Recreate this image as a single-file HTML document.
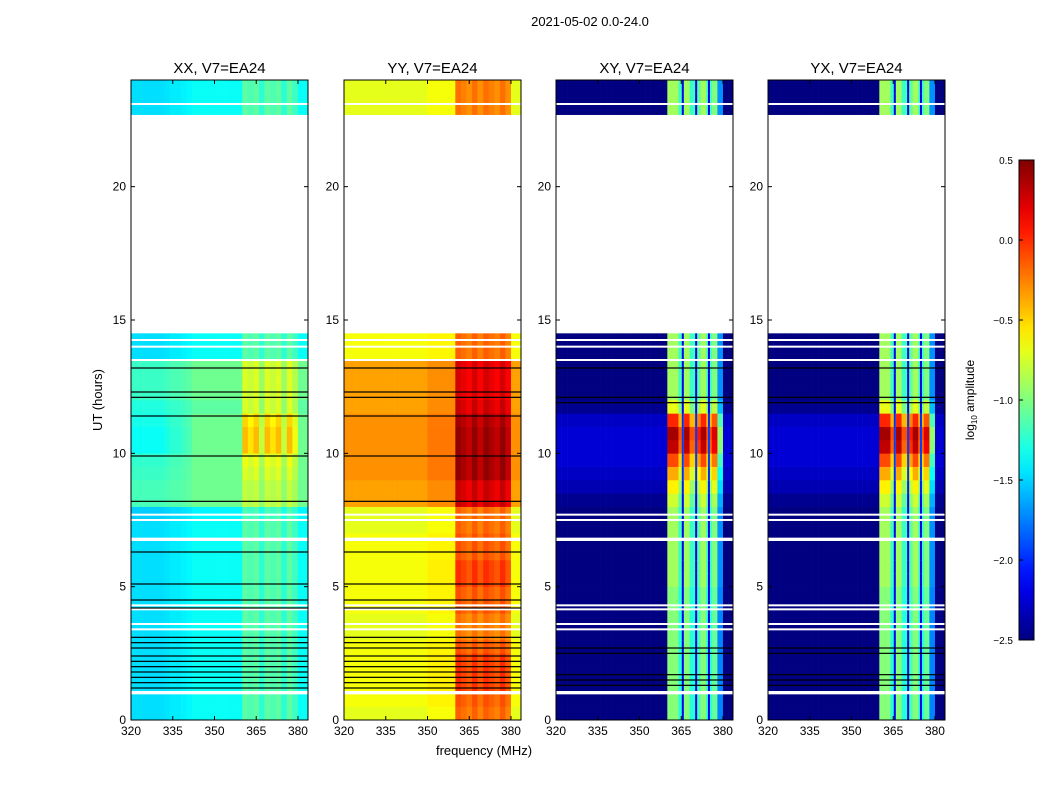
<!DOCTYPE html>
<html><head><meta charset="utf-8"><style>
body{margin:0;background:#fff;font-family:"Liberation Sans",sans-serif;}
svg text{font-family:"Liberation Sans",sans-serif;}
</style></head><body>
<svg id="fig" width="1050" height="800" xmlns="http://www.w3.org/2000/svg">
<rect width="1050" height="800" fill="#fff"/>
<text x="590" y="26" font-size="13" text-anchor="middle">2021-05-02 0.0-24.0</text>
<text transform="translate(102,400) rotate(-90)" font-size="13" text-anchor="middle">UT (hours)</text>
<text x="484" y="755" font-size="13" text-anchor="middle">frequency (MHz)</text>
<g id="panels"></g>
<g id="cbar"></g>
</svg>
<script>
const panelNames = ["XX, V7=EA24","YY, V7=EA24","XY, V7=EA24","YX, V7=EA24"];
const panelX = [131,344,556,768];
const xTicks = [320,335,350,365,380];
const yTicks = [0,5,10,15,20];
const freqBins = [320,322,324,326,328,330,332,334,336,338,340,342,344,346,348,350,352,354,356,358,360,362,364,366,368,370,372,374,376,378,380,382];
const timeBins = [0,0.5,1,1.5,2,2.5,3,3.5,4,4.5,5,5.5,6,6.5,7,7.5,8,8.5,9,9.5,10,10.5,11,11.5,12,12.5,13,13.5,14,14.5,15,15.5,16,16.5,17,17.5,18,18.5,19,19.5,20,20.5,21,21.5,22,22.5,23,23.5];
const N=null;
const rowXX = [-1.35,-1.35,-1.35,-1.35,-1.35,-1.35,-1.35,-1.35,-1.35,-1.35,-1.35,-1.35,-1.35,-1.35,-1.35,-1.4,-1.05,-1.05,-1.05,-1.05,-1.05,-1.05,-1.05,-1.1,-1.05,-1.05,-1.05,-1.35,-1.35,N,N,N,N,N,N,N,N,N,N,N,N,N,N,N,N,-1.35,-1.35,-1.35];
const rowYY = [-0.7,-0.65,-0.65,-0.65,-0.65,-0.65,-0.7,-0.7,-0.65,-0.65,-0.65,-0.65,-0.65,-0.65,-0.7,-0.7,-0.35,-0.35,-0.3,-0.3,-0.3,-0.3,-0.3,-0.35,-0.35,-0.35,-0.35,-0.65,-0.65,N,N,N,N,N,N,N,N,N,N,N,N,N,N,N,N,-0.7,-0.7,-0.7];
const rowXY = [-2.5,-2.5,-2.5,-2.5,-2.5,-2.5,-2.5,-2.5,-2.5,-2.5,-2.5,-2.5,-2.5,-2.5,-2.5,-2.5,-2.45,-2.35,-2.3,-2.25,-2.25,-2.25,-2.3,-2.45,-2.5,-2.5,-2.5,-2.5,-2.5,N,N,N,N,N,N,N,N,N,N,N,N,N,N,N,N,-2.5,-2.5,-2.5];
const rowYX = [-2.5,-2.5,-2.5,-2.5,-2.5,-2.5,-2.5,-2.5,-2.5,-2.5,-2.5,-2.5,-2.5,-2.5,-2.5,-2.5,-2.45,-2.35,-2.3,-2.25,-2.25,-2.25,-2.3,-2.45,-2.5,-2.5,-2.5,-2.5,-2.5,N,N,N,N,N,N,N,N,N,N,N,N,N,N,N,N,-2.5,-2.5,-2.5];
const profXX = [-0.12,-0.12,-0.12,-0.12,-0.12,-0.12,-0.1,-0.08,-0.08,-0.06,-0.04,0,0,0,0,0,0,0,0,0,0.25,0.2,0.25,0.1,0.25,0.2,0.25,0.1,0.25,0.15,0,0];
const profYY = [0,0,0,0,0,0,0,0,0,0,0,0,0,0,0,0.05,0.05,0.05,0.05,0.05,0.5,0.45,0.4,0.5,0.4,0.5,0.45,0.4,0.5,0.4,0,0];
const profXY = [0,0,0,0,0,0,0,0,0,0,0,0,0,0,0,0,0,0,0,0,1.6,1.6,1.3,1.6,1.3,1.4,1.6,1.3,1.5,0.8,0,0];
const profYX = [0,0,0,0,0,0,0,0,0,0,0,0,0,0,0,0,0,0,0,0,1.6,1.6,1.3,1.6,1.3,1.4,1.6,1.3,1.5,0.8,0,0];
const gainXX = [1,1,1,1,1,1,1,1,1,1,1,1,1,1,1,1,1,1,1.3,1.5,2.5,2.5,2.2,1.5,1.3,1.3,1.3,1,1,1,1,1,1,1,1,1,1,1,1,1,1,1,1,1,1,1,1,1];
const gainYY = [1.1,1.1,1.3,1.3,1.3,1.1,1,1,1.1,1.1,1.3,1.3,1.1,1.1,1.1,1.1,1.3,1.3,1.5,1.5,1.5,1.5,1.4,1.3,1.2,1.2,1.2,1,1,1,1,1,1,1,1,1,1,1,1,1,1,1,1,1,1,1,1,1];
const gainXY = [0.95,0.95,0.95,0.95,0.95,0.95,0.95,0.95,0.95,0.95,1,1,1,1,1,1,1.05,1.1,1.2,1.35,1.6,1.65,1.45,1.1,1,1,1,1,1,1,1,1,1,1,1,1,1,1,1,1,1,1,1,1,1,1,1,1];
const gainYX = [0.95,0.95,0.95,0.95,0.95,0.95,0.95,0.95,0.95,0.95,1,1,1,1,1,1,1.05,1.1,1.2,1.35,1.6,1.65,1.45,1.1,1,1,1,1,1,1,1,1,1,1,1,1,1,1,1,1,1,1,1,1,1,1,1,1];
const gapFreqs = [365.2,370,374.6];
const whiteLines = [1.0,1.05,3.4,3.6,4.15,4.3,6.75,6.8,7.5,7.7,13.5,14.0,14.25,23.1];
const blackLinesPar = [1.2,1.4,1.6,1.8,2.0,2.2,2.4,2.7,2.9,3.1,4.2,4.5,5.1,6.3,8.2,9.9,11.4,12.1,12.3,13.2];
const blackLinesCross = [1.3,1.5,1.7,2.5,2.7,11.9,12.1,13.2];
const cbTicks = [0.5,0.0,-0.5,-1.0,-1.5,-2.0,-2.5];
const rows=[rowXX,rowYY,rowXY,rowYX], profs=[profXX,profYY,profXY,profYX], gains=[gainXX,gainYY,gainXY,gainYX];
const vmin=-2.5,vmax=0.5;
const plotTop=80,plotBot=720,pw=177,dataTopGap=22.7;
function yOf(h){return plotBot-(h/24)*(plotBot-plotTop);}
function xOf(px,f){return px+(f-320)/(383.6-320)*pw;}
function jet(v){let t=Math.max(0,Math.min(1,(v-vmin)/(vmax-vmin)));
 const c=x=>Math.round(255*Math.max(0,Math.min(1,1.5-Math.abs(4*t-x))));
 return `rgb(${c(3)},${c(2)},${c(1)})`;}
const NS="http://www.w3.org/2000/svg";
function mk(tag,attrs,parent){const e=document.createElementNS(NS,tag);for(const k in attrs)e.setAttribute(k,attrs[k]);parent.appendChild(e);return e;}
const G=document.getElementById('panels');
panelNames.forEach((name,p)=>{
 const px=panelX[p];
 const g=mk('g',{},G);
 
 
 const hm=mk('g',{},g);
 
 
 timeBins.forEach((t,i)=>{
  const r=rows[p][i]; if(r===null) return;
  let t0=t, t1=Math.min(t+0.5,24);
  if(t0>=22 && t0<dataTopGap) t0=dataTopGap;
  if(t1<=t0) return;
  freqBins.forEach((f,j)=>{
   const v=r+profs[p][j]*gains[p][i];
   const x0=xOf(px,f),x1=Math.min(xOf(px,f+2),px+pw);
   const c=mk('rect',{x:x0,y:yOf(t1),width:Math.max(0,x1-x0+0.3),height:yOf(t0)-yOf(t1)+0.3,fill:jet(v)},hm);
   
   
  });
  if(p>=2){gapFreqs.forEach(gf=>{
   const c=mk('rect',{x:xOf(px,gf),y:yOf(t1),width:2,height:yOf(t0)-yOf(t1)+0.3,fill:jet(r+0.3)},hm);
   
   
  });}
 });
 whiteLines.forEach(h=>{const l=mk('rect',{x:px,y:yOf(h)-1,width:pw,height:2,fill:'#fff'},g);
  
  });
 (p<2?blackLinesPar:blackLinesCross).forEach(h=>{const l=mk('rect',{x:px,y:yOf(h)-0.6,width:pw,height:1.2,fill:'#000'},g);
  
  });
 const fr=mk('rect',{x:px,y:plotTop,width:pw,height:plotBot-plotTop,fill:'none',stroke:'#000','stroke-width':1},g);
 
 
 const ti=mk('text',{x:px+pw/2,y:73,'font-size':15,'text-anchor':'middle'},g);ti.textContent=name;
 
 
 xTicks.forEach(f=>{const x=xOf(px,f);
  mk('line',{x1:x,x2:x,y1:plotBot,y2:plotBot-4,stroke:'#000'},g);mk('line',{x1:x,x2:x,y1:plotTop,y2:plotTop+4,stroke:'#000'},g);
  const t=mk('text',{x:x,y:plotBot+15,'font-size':12,'text-anchor':'middle'},g);t.textContent=f;
  
  });
 yTicks.forEach(h=>{const y=yOf(h);
  mk('line',{x1:px,x2:px+4,y1:y,y2:y,stroke:'#000'},g);mk('line',{x1:px+pw,x2:px+pw-4,y1:y,y2:y,stroke:'#000'},g);
  const t=mk('text',{x:px-5,y:y+4,'font-size':12,'text-anchor':'end'},g);t.textContent=h;
  
  });
});
const C=document.getElementById('cbar');


const defs=mk('defs',{},C);const lg=mk('linearGradient',{id:'jg',x1:0,y1:1,x2:0,y2:0},defs);
for(let i=0;i<=20;i++){mk('stop',{offset:i/20,'stop-color':jet(vmin+(vmax-vmin)*i/20)},lg);}
const cy0=160,cy1=640,cx=1019,cw=15;
mk('rect',{x:cx,y:cy0,width:cw,height:cy1-cy0,fill:'url(#jg)',stroke:'#000'},C);
cbTicks.forEach(v=>{const y=cy1-(v-vmin)/(vmax-vmin)*(cy1-cy0);
 mk('line',{x1:cx,x2:cx+4,y1:y,y2:y,stroke:'#000'},C);
 const t=mk('text',{x:cx-6,y:y+4,'font-size':10,'text-anchor':'end'},C);t.textContent=v.toFixed(1).replace('-','\u2212');
 
 });
const cl=mk('text',{transform:'translate(974,400) rotate(-90)','font-size':12,'text-anchor':'middle'},C);
cl.innerHTML='log<tspan font-size="8" dy="3">10</tspan><tspan dy="-3"> amplitude</tspan>';


</script>
</body></html>
